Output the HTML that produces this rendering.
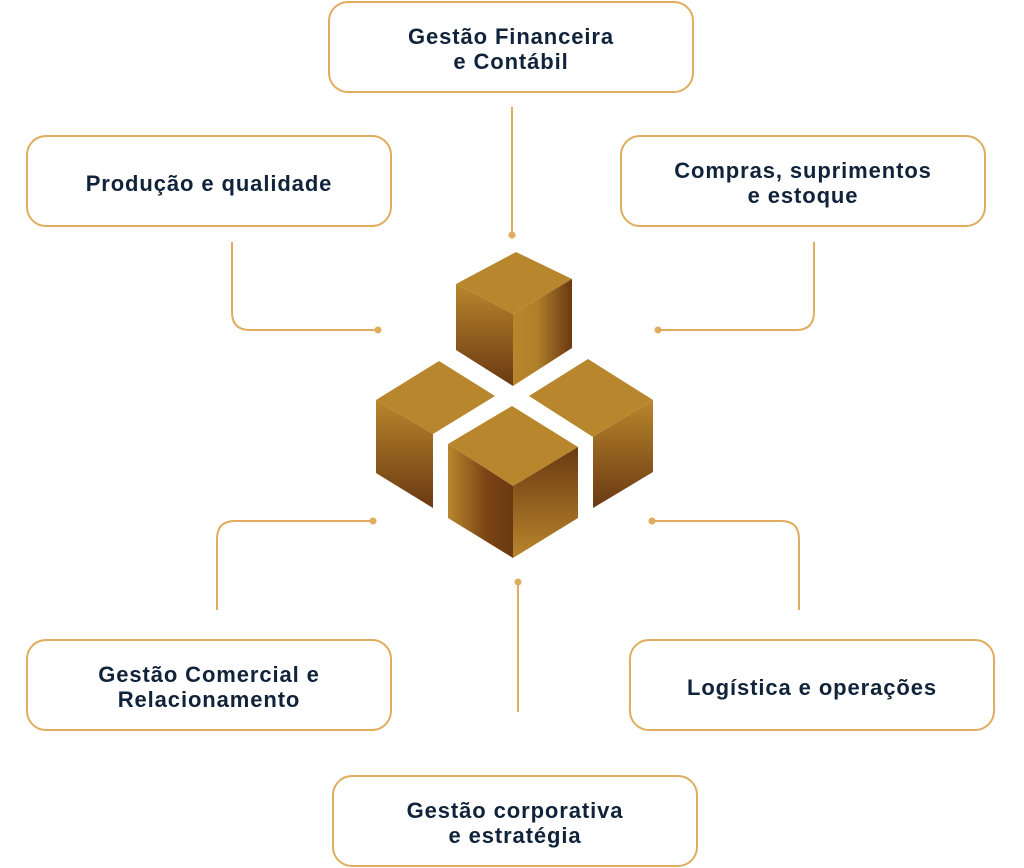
<!DOCTYPE html>
<html><head><meta charset="utf-8"><style>
html,body{margin:0;padding:0;background:#fff;width:1024px;height:868px;overflow:hidden;position:relative}
.b{position:absolute;box-sizing:border-box;width:366px;height:92px;padding-top:4px;border:2px solid #e0ad5e;border-radius:20px;display:flex;align-items:center;justify-content:center;text-align:center;font-family:"Liberation Sans",sans-serif;font-weight:bold;font-size:22px;letter-spacing:0.9px;line-height:25px;color:#10233a}
svg{position:absolute;left:0;top:0}
</style></head><body>
<svg width="1024" height="868" viewBox="0 0 1024 868">
<defs>
<linearGradient id="v" x1="0" y1="0" x2="0" y2="1"><stop offset="0" stop-color="#b8862c"/><stop offset="1" stop-color="#6a3912"/></linearGradient>
<linearGradient id="vr" x1="0" y1="0" x2="0" y2="1"><stop offset="0" stop-color="#6a3912"/><stop offset="1" stop-color="#b8862c"/></linearGradient>
<linearGradient id="h" x1="0" y1="0" x2="1" y2="0"><stop offset="0" stop-color="#b8862c"/><stop offset="0.4" stop-color="#b08029"/><stop offset="1" stop-color="#6a3912"/></linearGradient>
<linearGradient id="h2" x1="0" y1="0" x2="1" y2="0"><stop offset="0" stop-color="#b8862c"/><stop offset="0.6" stop-color="#7a4316"/><stop offset="1" stop-color="#6a3912"/></linearGradient>
</defs>
<g fill="none" stroke="#e0ad5e" stroke-width="2">
<path d="M512 107V235"/>
<path d="M232 242V312Q232 330 250 330H378"/>
<path d="M814 242V312Q814 330 796 330H658"/>
<path d="M373 521H235Q217 521 217 539V610"/>
<path d="M652 521H781Q799 521 799 539V610"/>
<path d="M518 582V712"/>
</g>
<g fill="#e0ad5e">
<circle cx="512" cy="235" r="3.5"/><circle cx="378" cy="330" r="3.5"/><circle cx="658" cy="330" r="3.5"/>
<circle cx="373" cy="521" r="3.5"/><circle cx="652" cy="521" r="3.5"/><circle cx="518" cy="582" r="3.5"/>
</g>
<polygon points="516,252 572,279 513,314 456,284" fill="#b8862c"/>
<polygon points="456,284 513,314 513,386 456,350" fill="url(#v)"/>
<polygon points="513,314 572,279 572,348 513,386" fill="url(#h)"/>
<polygon points="439,361 495,396 433,434 376,400" fill="#b8862c"/>
<polygon points="376,400 433,434 433,508 376,473" fill="url(#v)"/>
<polygon points="588,359 653,400 593,437 529,396" fill="#b8862c"/>
<polygon points="593,437 653,400 653,472 593,508" fill="url(#v)"/>
<polygon points="512,406 578,447 513,486 448,444" fill="#b8862c"/>
<polygon points="448,444 513,486 513,558 448,518" fill="url(#h2)"/>
<polygon points="513,486 578,447 578,518 513,558" fill="url(#vr)"/>
</svg>
<div class="b" style="left:328px;top:1px">Gestão Financeira<br>e Contábil</div>
<div class="b" style="left:26px;top:135px">Produção e qualidade</div>
<div class="b" style="left:620px;top:135px">Compras, suprimentos<br>e estoque</div>
<div class="b" style="left:26px;top:639px">Gestão Comercial e<br>Relacionamento</div>
<div class="b" style="left:629px;top:639px">Logística e operações</div>
<div class="b" style="left:332px;top:775px">Gestão corporativa<br>e estratégia</div>
</body></html>
